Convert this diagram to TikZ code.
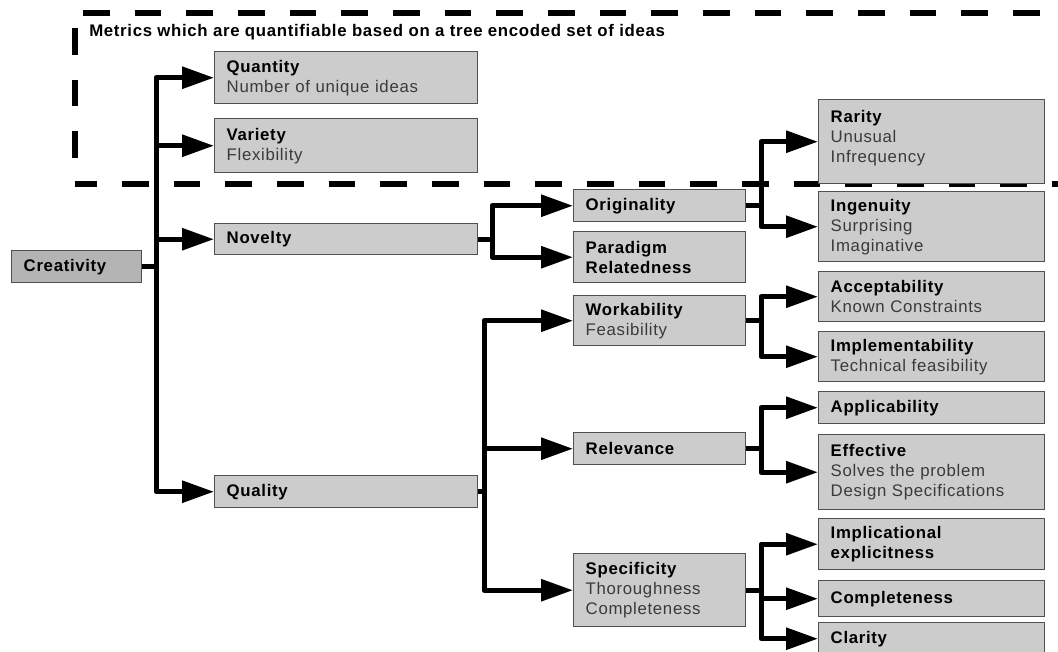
\documentclass[tikz,border=0pt]{standalone}
\usepackage{fontspec}
\setmainfont{Liberation Sans}[LetterSpace=4]
\usetikzlibrary{arrows.meta}
\definecolor{boxfill}{HTML}{CCCCCC}
\definecolor{rootfill}{HTML}{B4B4B4}
\definecolor{boxline}{HTML}{505050}
\definecolor{subgray}{HTML}{3A3A3A}
\newcommand\mytitle[1]{\textbf{#1}}
\newcommand\mysub[1]{{\color{subgray}#1}}
\begin{document}
\begin{tikzpicture}[x=0.75pt,y=-0.75pt,
  box/.style={draw=boxline, fill=boxfill, line width=1.1pt, anchor=north west,
    align=left, inner xsep=9pt, inner ysep=0pt,
    font=\fontsize{12.6}{15}\selectfont, text=black},
  colzero/.style={box, fill=rootfill, text width=79.5pt},
  colone/.style={box, text width=179.25pt},
  coltwo/.style={box, text width=111pt},
  colthree/.style={box, text width=151.5pt},
  dashline/.style={line width=4.5pt, dash pattern=on 20pt off 18.75pt},
  arr/.style={line width=3.75pt, line join=round, -{Triangle[length=24pt,width=16pt]}}
]
\useasboundingbox (0,0) rectangle (1058,652);

% dashed region
\draw[dashline] (83,13) -- (1100,13);
\draw[dashline] (75,28) -- (75,160);
\draw[dashline, dash phase=3.5pt] (75,184) -- (1100,184);
\node[anchor=base west, inner sep=0pt, font=\fontsize{12.6}{15}\selectfont\bfseries] (ttl) at (89,37)
  {Metrics which are quantifiable based on a tree encoded set of ideas};

% boxes
\node[colzero, minimum height=24pt] (crea) at (11,250) {\mytitle{Creativity}};
\node[colone, minimum height=39pt] (quan) at (214,51) {\mytitle{Quantity}\\\mysub{Number of unique ideas}};
\node[colone, minimum height=40.5pt] (vari) at (214,118) {\mytitle{Variety}\\\mysub{Flexibility}};
\node[colone, minimum height=23.25pt] (nove) at (214,223) {\mytitle{Novelty}};
\node[colone, minimum height=24pt] (qual) at (214,475) {\mytitle{Quality}};

\node[coltwo, minimum height=24pt] (orig) at (573,189) {\mytitle{Originality}};
\node[coltwo, minimum height=38.25pt] (para) at (573,231) {\mytitle{Paradigm}\\\mytitle{Relatedness}};
\node[coltwo, minimum height=37.5pt] (work) at (573,295) {\mytitle{Workability}\\\mysub{Feasibility}};
\node[coltwo, minimum height=24pt] (rele) at (573,432) {\mytitle{Relevance}};
\node[coltwo, minimum height=54.75pt] (spec) at (573,553) {\mytitle{Specificity}\\\mysub{Thoroughness}\\\mysub{Completeness}};

\node[colthree, minimum height=63pt] (rari) at (818,99) {\mytitle{Rarity}\\\mysub{Unusual}\\\mysub{Infrequency}\\[-7pt]\mbox{}};
\node[colthree, minimum height=52.5pt] (inge) at (818,191) {\mytitle{Ingenuity}\\\mysub{Surprising}\\\mysub{Imaginative}};
\node[colthree, minimum height=37.5pt] (acce) at (818,271) {\mytitle{Acceptability}\\\mysub{Known Constraints}};
\node[colthree, minimum height=37.5pt] (impl) at (818,331) {\mytitle{Implementability}\\\mysub{Technical feasibility}};
\node[colthree, minimum height=24pt] (appl) at (818,391) {\mytitle{Applicability}};
\node[colthree, minimum height=56.25pt] (effe) at (818,434) {\mytitle{Effective}\\\mysub{Solves the problem}\\\mysub{Design Specifications}};
\node[colthree, minimum height=38.25pt] (impc) at (818,518) {\mytitle{Implicational}\\\mytitle{explicitness}};
\node[colthree, minimum height=27pt] (comp) at (818,580) {\mytitle{Completeness}};
\node[colthree, minimum height=24pt] (clar) at (818,622) {\mytitle{Clarity}};

% branch columns
\coordinate (bA) at (156,0);
\coordinate (bN) at (492,0);
\coordinate (bQ) at (484,0);
\coordinate (bR) at (761,0);

% connectors
\foreach \c in {quan,vari,nove,qual}
  \draw[arr] (crea.east) -- (crea.east -| bA) |- (\c.west);
\foreach \c in {orig,para}
  \draw[arr] (nove.east) -- (nove.east -| bN) |- (\c.west);
\foreach \c in {work,rele,spec}
  \draw[arr] (qual.east) -- (qual.east -| bQ) |- (\c.west);
\foreach \c in {rari,inge}
  \draw[arr] (orig.east) -- (orig.east -| bR) |- (\c.west);
\foreach \c in {acce,impl}
  \draw[arr] (work.east) -- (work.east -| bR) |- (\c.west);
\foreach \c in {appl,effe}
  \draw[arr] (rele.east) -- (rele.east -| bR) |- (\c.west);
\foreach \c in {impc,comp,clar}
  \draw[arr] (spec.east) -- (spec.east -| bR) |- (\c.west);
\end{tikzpicture}
\end{document}
